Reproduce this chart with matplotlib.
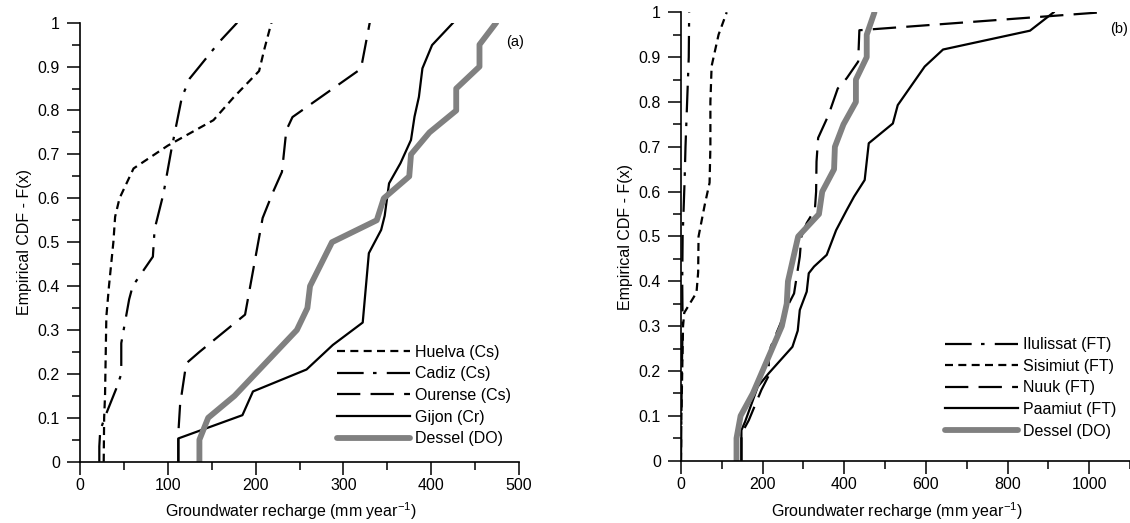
import matplotlib
matplotlib.use("Agg")
import matplotlib.pyplot as plt
from matplotlib.ticker import MultipleLocator, FuncFormatter

plt.rcParams['font.family'] = ['Liberation Sans', 'DejaVu Sans']
plt.rcParams['mathtext.fontset'] = 'custom'
plt.rcParams['mathtext.rm'] = 'Liberation Sans'
plt.rcParams['mathtext.default'] = 'regular'

# ---------------- data: panel (a) ----------------
huelva_x = [27, 27.5, 28.5, 30, 33, 38, 40, 45, 61, 100, 152, 175, 204, 210, 218]
huelva_y = [0, 0.10, 0.15, 0.33, 0.40, 0.50, 0.558, 0.60, 0.668, 0.72, 0.778, 0.83, 0.89, 0.94, 1.0]

cadiz_x = [22, 22, 23, 28, 42, 47, 47, 56, 60, 83, 85, 95, 104, 110, 116, 125, 136, 159, 179]
cadiz_y = [0, 0.035, 0.07, 0.10, 0.17, 0.20, 0.27, 0.37, 0.40, 0.467, 0.53, 0.61, 0.71, 0.77, 0.83, 0.873, 0.90, 0.957, 1.0]

ourense_x = [112, 112, 114, 121, 136, 188, 203, 208, 220, 230, 235, 242, 320, 330]
ourense_y = [0, 0.065, 0.13, 0.224, 0.25, 0.335, 0.50, 0.555, 0.615, 0.66, 0.755, 0.785, 0.895, 1.0]

gijon_x = [112, 112, 185, 197, 258, 288, 322, 329, 343, 347, 352, 365, 377, 381, 386, 390, 401, 425]
gijon_y = [0, 0.053, 0.106, 0.16, 0.21, 0.266, 0.317, 0.475, 0.528, 0.56, 0.634, 0.68, 0.733, 0.786, 0.831, 0.896, 0.949, 1.0]

dessel_x = [136, 136, 146, 176, 247, 259, 262, 287, 338, 346, 375, 377, 398, 428.5, 428.5, 455, 455, 474]
dessel_y = [0, 0.05, 0.10, 0.15, 0.30, 0.35, 0.40, 0.50, 0.55, 0.60, 0.65, 0.70, 0.75, 0.80, 0.85, 0.90, 0.95, 1.0]

# ---------------- data: panel (b) ----------------
ilulissat_x = [0, 1, 2, 4, 3, 4, 6, 9, 11, 13, 15, 17, 19, 20]
ilulissat_y = [0, 0.10, 0.20, 0.30, 0.40, 0.50, 0.55, 0.63, 0.70, 0.75, 0.80, 0.85, 0.90, 1.0]

sisimiut_x = [0, 1, 3, 5, 8, 38, 42, 43, 58, 70, 72, 72, 75, 92, 112]
sisimiut_y = [0, 0.10, 0.20, 0.30, 0.33, 0.375, 0.42, 0.50, 0.57, 0.62, 0.70, 0.80, 0.88, 0.95, 1.0]

nuuk_x = [148, 148, 166, 197, 215, 215, 220, 264, 277, 291, 295, 308, 328, 331, 332, 336, 361, 384, 406, 434, 437, 1030]
nuuk_y = [0, 0.06, 0.09, 0.158, 0.19, 0.225, 0.254, 0.35, 0.373, 0.455, 0.50, 0.53, 0.56, 0.60, 0.667, 0.72, 0.77, 0.83, 0.853, 0.89, 0.96, 1.0]

paamiut_x = [148, 148, 157, 188, 215, 273, 286, 291, 308, 313, 326, 357, 380, 406, 424, 450, 460, 519, 531, 597, 642, 855, 913]
paamiut_y = [0, 0.068, 0.087, 0.165, 0.195, 0.254, 0.29, 0.336, 0.377, 0.418, 0.433, 0.459, 0.514, 0.559, 0.589, 0.626, 0.708, 0.752, 0.793, 0.879, 0.917, 0.959, 1.0]

labels_a = ['Huelva (Cs)', 'Cadiz (Cs)', 'Ourense (Cs)', 'Gijon (Cr)', 'Dessel (DO)']
labels_b = ['Ilulissat (FT)', 'Sisimiut (FT)', 'Nuuk (FT)', 'Paamiut (FT)', 'Dessel (DO)']

# ---------------- styles ----------------
LW = 1.6
GRAY = '#808080'
short_dash = (0, (3.6, 2.4))
dash_dot = (0, (12.0, 4.2, 1.6, 4.6))
long_dash = (0, (10.5, 4.6))

FS = 11.5

fig = plt.figure(figsize=(11.3, 5.23), dpi=100)
ax_a = fig.add_axes([80 / 1130, (523 - 461.7) / 523, 439 / 1130, 439 / 523])
ax_b = fig.add_axes([681 / 1130, (523 - 460.7) / 523, 449 / 1130, 448.4 / 523])


def style_axes(ax, xmax, xmajor, xminor, xlab_x):
    ax.set_xlim(0, xmax)
    ax.set_ylim(0, 1)
    for s in ['top', 'right']:
        ax.spines[s].set_visible(False)
    for s in ['left', 'bottom']:
        ax.spines[s].set_linewidth(1.2)
    ax.xaxis.set_major_locator(MultipleLocator(xmajor))
    ax.xaxis.set_minor_locator(MultipleLocator(xminor))
    ax.yaxis.set_major_locator(MultipleLocator(0.1))
    ax.yaxis.set_minor_locator(MultipleLocator(0.05))
    ax.yaxis.set_major_formatter(FuncFormatter(lambda v, p: '%g' % round(v, 2)))
    ax.tick_params(which='major', direction='out', length=9.5, width=1.1, labelsize=FS)
    ax.tick_params(which='minor', direction='out', length=5.5, width=1.1)
    ax.tick_params(axis='y', pad=5)
    ax.tick_params(axis='x', pad=2)
    ax.set_ylabel('Empirical CDF - F(x)', fontsize=FS, labelpad=4)
    ax.set_xlabel('Groundwater recharge (mm year$^{-1}$)', fontsize=FS)
    ax.xaxis.set_label_coords(xlab_x, -0.088)


# panel (a)
ax_a.plot(huelva_x, huelva_y, color='black', lw=LW, linestyle=short_dash, label=labels_a[0])
ax_a.plot(cadiz_x, cadiz_y, color='black', lw=LW, linestyle=dash_dot, label=labels_a[1])
ax_a.plot(ourense_x, ourense_y, color='black', lw=LW, linestyle=long_dash, label=labels_a[2])
ax_a.plot(gijon_x, gijon_y, color='black', lw=LW, linestyle='-', label=labels_a[3])
ax_a.plot(dessel_x, dessel_y, color=GRAY, lw=4.2, linestyle='-', solid_capstyle='round', label=labels_a[4])
style_axes(ax_a, 500, 100, 50, 0.48)
ax_a.legend(loc='upper left', bbox_to_anchor=(0.585, 0.266), frameon=False, fontsize=FS,
            handlelength=4.56, handletextpad=0.31, labelspacing=0.41, borderpad=0, borderaxespad=0)
ax_a.text(0.97, 0.955, '(a)', transform=ax_a.transAxes, fontsize=FS - 1, ha='left', va='center')

# panel (b)
ax_b.plot(ilulissat_x, ilulissat_y, color='black', lw=LW, linestyle=dash_dot, label=labels_b[0])
ax_b.plot(sisimiut_x, sisimiut_y, color='black', lw=LW, linestyle=short_dash, label=labels_b[1])
ax_b.plot(nuuk_x, nuuk_y, color='black', lw=LW, linestyle=long_dash, label=labels_b[2])
ax_b.plot(paamiut_x, paamiut_y, color='black', lw=LW, linestyle='-', label=labels_b[3])
ax_b.plot(dessel_x, dessel_y, color=GRAY, lw=4.2, linestyle='-', solid_capstyle='round', label=labels_b[4])
style_axes(ax_b, 1100, 200, 100, 0.481)
ax_b.legend(loc='upper left', bbox_to_anchor=(0.588, 0.275), frameon=False, fontsize=FS,
            handlelength=4.56, handletextpad=0.31, labelspacing=0.41, borderpad=0, borderaxespad=0)
ax_b.text(0.996, 0.962, '(b)', transform=ax_b.transAxes, fontsize=FS - 1, ha='right', va='center',
          clip_on=False)

fig.savefig('out.png', dpi=100)
